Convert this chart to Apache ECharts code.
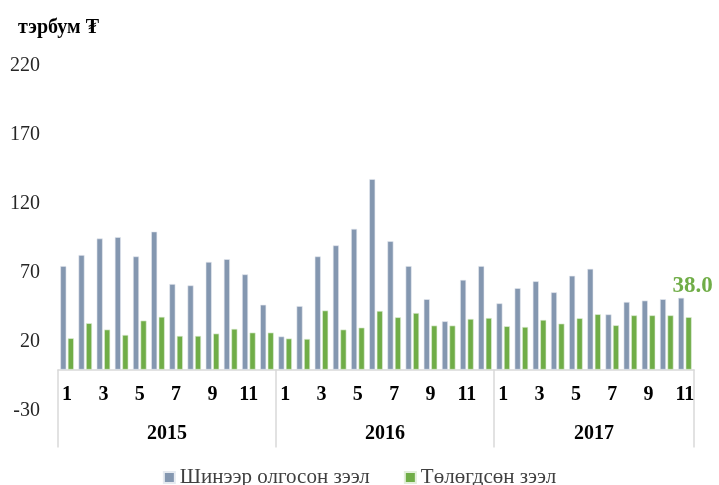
<!DOCTYPE html>
<html>
<head>
<meta charset="utf-8">
<script src="https://cdn.jsdelivr.net/npm/echarts@6/dist/echarts.min.js"></script>
<style>
  html, body { margin: 0; padding: 0; background: #fff; }
  #chart { width: 719px; height: 485px; }
</style>
</head>
<body>
<div id="chart"></div>
<script>
// months on the lower axis
var months = ['1','2','3','4','5','6','7','8','9','10','11','12',
              '1','2','3','4','5','6','7','8','9','10','11','12',
              '1','2','3','4','5','6','7','8','9','10','11'];
var yearNames = ['2015', '2016', '2017'];
var monthsPerYear = [12, 12, 11];

// Шинээр олгосон зээл
var newLoans = [75, 83, 95, 96, 82, 100, 62, 61, 78, 80, 69, 47,
                24, 46, 82, 90, 102, 138, 93, 75, 51, 35, 65, 75,
                48, 59, 64, 56, 68, 73, 40, 49, 50, 51, 52];
// Төлөгдсөн зээл
var repaidLoans = [22.7, 33.6, 29, 25.1, 35.5, 38.2, 24.4, 24.4, 26.1, 29.5, 26.8, 26.8,
                   22.5, 22.2, 42.8, 29, 30.4, 42.5, 37.9, 41, 31.9, 31.9, 36.7, 37.4,
                   31.4, 30.9, 36, 33.3, 37.2, 40.1, 32.1, 39.3, 39.3, 39.3, 38.0];

var yTicks = [-30, 20, 70, 120, 170, 220];

var FONT = '"Liberation Serif", "Times New Roman", "DejaVu Serif", serif';

// year axis: half-month points, year name in the middle of its months
var yearAxisData = [];
var yearBounds = {};
var pos = 0;
for (var k = 0; k <= months.length * 2; k++) yearAxisData.push('');
for (var y = 0; y < yearNames.length; y++) {
  yearBounds[pos * 2] = true;
  yearAxisData[pos * 2 + monthsPerYear[y]] = yearNames[y];
  pos += monthsPerYear[y];
}
yearBounds[pos * 2] = true;

var last = repaidLoans.length - 1;
var repaidData = repaidLoans.map(function (v, i) {
  if (i !== last) return v;
  return {
    value: v,
    label: {
      show: true,
      position: 'top',
      distance: 20,
      formatter: function (p) { return p.value.toFixed(1); },
      color: '#70AD47',
      fontFamily: FONT,
      fontWeight: 'bold',
      fontSize: 23,
      offset: [4, 0]
    }
  };
});

var chart = echarts.init(document.getElementById('chart'));

var option = {
  animation: false,
  title: {
    text: 'тэрбум ₮',
    left: 13,
    top: 13,
    textStyle: { fontFamily: FONT, fontWeight: 'bold', fontSize: 20, color: '#000' }
  },
  legend: {
    bottom: -8,
    left: 'center',
    icon: 'rect',
    itemWidth: 11,
    itemHeight: 11,
    itemGap: 34,
    textStyle: { fontFamily: FONT, fontSize: 21, color: '#404040' },
    data: ['Шинээр олгосон зээл', 'Төлөгдсөн зээл']
  },
  grid: { left: 58, right: 25, top: 66, bottom: 74, containLabel: false },
  xAxis: [
    {
      type: 'category',
      data: months,
      position: 'bottom',
      axisLine: { onZero: true, lineStyle: { color: '#d9d9d9', width: 1.5 } },
      axisTick: { show: false },
      axisLabel: {
        interval: 1,
        margin: -26,
        fontFamily: FONT,
        fontWeight: 'bold',
        fontSize: 20,
        color: '#000'
      }
    },
    {
      type: 'category',
      data: yearAxisData,
      boundaryGap: false,
      position: 'bottom',
      axisLine: { show: false, onZero: true, onZeroAxisIndex: 0 },
      axisTick: {
        show: true,
        length: 78,
        interval: function (index) { return !!yearBounds[index]; },
        lineStyle: { color: '#d9d9d9', width: 1.5 }
      },
      axisLabel: {
        interval: 0,
        margin: 13,
        fontFamily: FONT,
        fontWeight: 'bold',
        fontSize: 20,
        color: '#000'
      }
    }
  ],
  yAxis: {
    type: 'value',
    min: -30,
    max: 220,
    axisLine: { show: false },
    axisTick: { show: false },
    splitLine: { show: false },
    axisLabel: {
      customValues: yTicks,
      margin: 18,
      fontFamily: FONT,
      fontSize: 20,
      color: '#262626'
    }
  },
  series: [
    {
      name: 'Шинээр олгосон зээл',
      type: 'bar',
      xAxisIndex: 0,
      barWidth: 6,
      barGap: '25%',
      data: newLoans,
      itemStyle: { color: '#8497B0', borderColor: '#e6eaf0', borderWidth: 0.6 }
    },
    {
      name: 'Төлөгдсөн зээл',
      type: 'bar',
      xAxisIndex: 0,
      barWidth: 6,
      barGap: '25%',
      data: repaidData,
      itemStyle: { color: '#70AD47', borderColor: '#e3efdb', borderWidth: 0.6 }
    }
  ]
};

chart.setOption(option);
</script>
</body>
</html>
